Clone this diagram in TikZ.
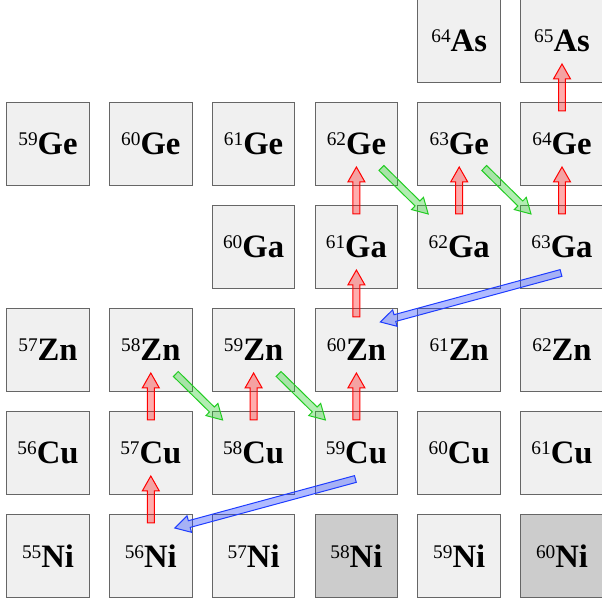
\documentclass[tikz,border=0pt]{standalone}
\usepackage{fontspec}
\setmainfont{Liberation Serif}
\usetikzlibrary{calc}
\definecolor{IsoFill}{HTML}{F0F0F0}
\definecolor{IsoEdge}{HTML}{666666}
\definecolor{StableFill}{HTML}{CCCCCC}
\definecolor{PcapRed}{HTML}{FF0000}
\definecolor{DecayGreen}{HTML}{22CC22}
\definecolor{AlphaBlue}{HTML}{1E3CFF}
\newcommand{\isolabel}[2]{\raisebox{6.75pt}{\fontsize{14.5}{16}\selectfont #1}{\bfseries #2}}
% block arrow from #2 to #3
\newcommand{\flux}[3]{%
  \coordinate (fluxA) at (#2);
  \coordinate (fluxB) at (#3);
  \coordinate (fluxH) at ($(fluxB)!11.25pt!(fluxA)$);
  \filldraw[#1] ($(fluxA)!2.6pt!90:(fluxB)$) -- ($(fluxH)!2.6pt!90:(fluxB)$)
    -- ($(fluxH)!6.4pt!90:(fluxB)$) -- (fluxB) -- ($(fluxH)!6.4pt!-90:(fluxB)$)
    -- ($(fluxH)!2.6pt!-90:(fluxB)$) -- ($(fluxA)!2.6pt!-90:(fluxB)$) -- cycle;}

\begin{document}
\begin{tikzpicture}[x=0.75pt, y=0.75pt,
  iso/.style={draw=IsoEdge, fill=IsoFill, line width=0.8pt, minimum size=61.9pt,
    inner sep=0pt, font=\fontsize{24.5}{29}\selectfont},
  stable/.style={fill=StableFill},
  iso-Ni58/.style={stable}, iso-Ni60/.style={stable},
  pcap/.style={draw=PcapRed, fill=PcapRed, fill opacity=0.32, line width=0.75pt},
  decay/.style={draw=DecayGreen, fill=DecayGreen, fill opacity=0.35, line width=0.75pt},
  alphap/.style={draw=AlphaBlue, fill=AlphaBlue, fill opacity=0.35, line width=0.75pt}]
  \useasboundingbox (0,0) rectangle (602,606);
  % element / row / first column / first mass / count
  \foreach \el/\r/\cz/\az/\n in {As/0/4/64/2, Ge/1/0/59/6, Ga/2/2/60/4,
      Zn/3/0/57/6, Cu/4/0/56/6, Ni/5/0/55/6} {
    \foreach \k in {1,...,\n} {
      \pgfmathtruncatemacro\c{\cz+\k-1}
      \pgfmathtruncatemacro\a{\az+\k-1}
      \node[iso, iso-\el\a/.try] (\el\a) at ({48+102.8*\c},{565-103*\r}) {\isolabel{\a}{\el}};
    }
  }
  % (p,gamma)
  \foreach \from/\to in {Ni56/Cu57, Cu57/Zn58, Cu58/Zn59, Cu59/Zn60, Zn60/Ga61,
      Ga61/Ge62, Ga62/Ge63, Ga63/Ge64, Ge64/As65}
    \flux{pcap}{$(\from)+(0,33)$}{$(\to)+(0,-23)$};
  % beta+
  \foreach \from/\to in {Zn58/Cu58, Zn59/Cu59, Ge62/Ga62, Ge63/Ga63}
    \flux{decay}{$(\from)+(25,-24)$}{$(\to)+(-31,33)$};
  % (p,alpha)
  \foreach \from/\to in {Ga63/Zn60, Cu59/Ni56}
    \flux{alphap}{$(\from)+(-1,-26)$}{$(\to)+(24,28)$};
\end{tikzpicture}
\end{document}
